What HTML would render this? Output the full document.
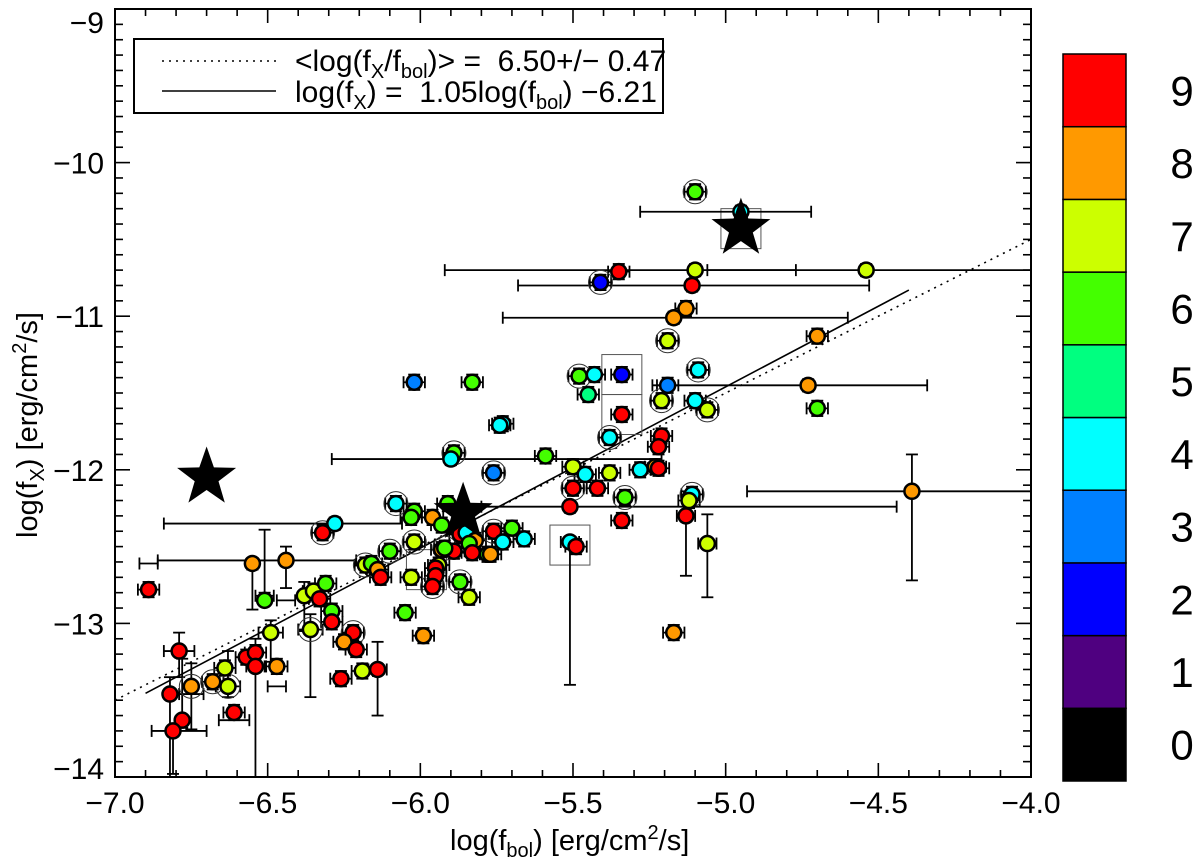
<!DOCTYPE html>
<html><head><meta charset="utf-8"><style>
html,body{margin:0;padding:0;background:#fff;}
svg{display:block;font-family:"Liberation Sans",sans-serif;}
</style></head><body>
<svg id="chart" width="1200" height="862" viewBox="0 0 1200 862">
<g id="grid"></g>
</svg>
<script>
// ---------- data ----------
var xVals=[-5.10,-4.95,-5.35,-5.41,-5.10,-4.54,-5.11,-5.13,-5.17,-5.19,-4.70,-5.09,-5.48,-5.43,-5.34,-5.45,-5.19,-5.21,-5.10,-5.06,-4.73,-4.70,-5.34,-5.73,-5.38,-5.21,-5.22,-5.59,-5.89,-5.90,-5.76,-5.50,-5.46,-5.38,-5.28,-5.23,-5.22,-5.50,-5.42,-5.51,-5.33,-5.11,-5.12,-5.34,-5.13,-5.06,-5.17,-4.39,-5.51,-5.49,-6.02,-5.83,-5.74,-6.08,-6.28,-6.02,-6.03,-5.96,-5.91,-5.93,-5.87,-5.85,-5.82,-5.76,-5.70,-5.73,-5.66,-5.84,-5.89,-5.83,-5.78,-5.77,-5.93,-5.92,-6.02,-6.10,-6.18,-6.16,-6.14,-6.13,-5.94,-5.95,-5.95,-5.96,-6.03,-5.87,-5.84,-6.05,-5.99,-6.22,-6.32,-6.89,-6.55,-6.44,-6.51,-6.38,-6.35,-6.33,-6.31,-6.29,-6.29,-6.36,-6.25,-6.21,-6.79,-6.49,-6.57,-6.54,-6.54,-6.47,-6.64,-6.68,-6.63,-6.75,-6.82,-6.61,-6.78,-6.81,-6.26,-6.19,-6.14];
var yVals=[-10.19,-10.32,-10.71,-10.78,-10.70,-10.70,-10.80,-10.95,-11.01,-11.16,-11.13,-11.35,-11.39,-11.38,-11.38,-11.51,-11.45,-11.55,-11.55,-11.61,-11.45,-11.60,-11.64,-11.70,-11.79,-11.78,-11.85,-11.91,-11.89,-11.93,-12.02,-11.98,-12.03,-12.02,-12.00,-11.98,-11.99,-12.12,-12.12,-12.24,-12.18,-12.16,-12.20,-12.33,-12.30,-12.48,-13.06,-12.14,-12.47,-12.50,-11.43,-11.43,-11.71,-12.22,-12.35,-12.27,-12.31,-12.31,-12.22,-12.36,-12.42,-12.41,-12.46,-12.40,-12.38,-12.47,-12.45,-12.48,-12.53,-12.54,-12.55,-12.55,-12.52,-12.51,-12.47,-12.53,-12.62,-12.61,-12.65,-12.70,-12.62,-12.64,-12.69,-12.76,-12.70,-12.73,-12.83,-12.93,-13.08,-13.06,-12.41,-12.78,-12.61,-12.59,-12.85,-12.82,-12.79,-12.84,-12.74,-12.92,-12.99,-13.04,-13.12,-13.17,-13.18,-13.06,-13.22,-13.19,-13.28,-13.28,-13.29,-13.38,-13.41,-13.41,-13.46,-13.58,-13.63,-13.70,-13.36,-13.31,-13.30];
var classVals=[6,4,9,2,7,7,9,8,8,7,8,4,6,4,2,5,3,7,4,7,8,6,9,4,4,9,9,6,6,4,3,7,4,7,4,8,9,9,9,9,6,4,7,9,9,7,8,8,4,9,3,6,4,4,4,6,6,8,6,6,9,4,8,9,6,4,4,6,9,9,6,8,8,6,7,6,7,6,8,9,7,9,9,9,7,6,7,6,8,9,9,9,8,8,6,7,7,9,6,6,9,7,8,9,9,7,9,9,9,8,7,8,7,8,9,9,9,9,9,7,9];
var ringIdx=[0,3,9,11,12,17,19,24,28,30,37,40,41,53,63,73,74,75,76,83,85,89,90,101,111,112,113];
var errIdx=[1,4,5,6,8,20,29,39,44,45,47,48,54,92,93,94,95,101,104,105,108,112,113,114,116,117,120];
var errXlo=[-5.28,-5.92,-5.06,-5.68,-5.73,-5.24,-6.29,-5.80,-5.16,-5.09,-4.93,-5.54,-6.84,-6.92,-6.86,-6.47,-6.54,-6.40,-6.84,-6.53,-6.57,-6.50,-6.67,-6.79,-6.66,-6.88,-6.17];
var errXhi=[-4.72,-4.77,-4.00,-4.53,-4.60,-4.34,-5.21,-4.44,-5.10,-5.03,-4.00,-5.48,-6.06,-6.86,-6.21,-6.41,-6.48,-6.32,-6.74,-6.45,-6.51,-6.44,-6.59,-6.71,-6.56,-6.70,-6.11];
var errYlo=[-10.36,-10.74,-10.74,-10.84,-11.05,-11.49,-11.97,-12.28,-12.69,-12.83,-12.72,-13.40,-12.39,-12.91,-12.77,-12.80,-13.05,-13.48,-13.35,-13.25,-14.00,-13.48,-13.69,-14.00,-13.68,-13.98,-13.60];
var errYhi=[-10.28,-10.66,-10.66,-10.76,-10.97,-11.41,-11.89,-12.20,-12.14,-12.29,-11.90,-12.45,-12.31,-12.65,-12.50,-12.39,-12.73,-12.94,-13.06,-12.98,-13.10,-13.18,-13.26,-13.35,-13.23,-13.70,-13.12];
var starX=[-6.70,-5.86,-4.95];
var starY=[-12.05,-12.28,-10.43];
var boxX=[-4.95,-5.34,-5.34,-5.51,-5.98];
var boxY=[-10.43,-11.38,-11.64,-12.49,-12.65];
var xTicks=[-7.0,-6.5,-6.0,-5.5,-5.0,-4.5,-4.0];
var xTickLabels=["\u22127.0","\u22126.5","\u22126.0","\u22125.5","\u22125.0","\u22124.5","\u22124.0"];
var yTicks=[-9,-10,-11,-12,-13,-14];
var yTickLabels=["\u22129","\u221210","\u221211","\u221212","\u221213","\u221214"];
var cbLabels=["0","1","2","3","4","5","6","7","8","9"];
var cbColors=["#000000","#4f0080","#0000ff","#0080ff","#00ffff","#00ff80","#44ff00","#ccff00","#ff9900","#ff0000"];
var fitSlope=[1.05], fitIcept=[-6.21], meanRatio=[6.50];

var L=115,R=1031,T=9,B=777,XMIN=-7,XMAX=-4,YMIN=-14,YMAX=-9;
function sx(v){return L+(v-XMIN)/(XMAX-XMIN)*(R-L);}
function sy(v){return B-(v-YMIN)/(YMAX-YMIN)*(B-T);}
var NS="http://www.w3.org/2000/svg";
var svg=document.getElementById('chart');
function el(tag,attrs,parent){var e=document.createElementNS(NS,tag);for(var k in attrs)e.setAttribute(k,attrs[k]);(parent||svg).appendChild(e);return e;}

var plot=el('g',{});



var dl=el('line',{x1:sx(-7),y1:sy(-7-meanRatio[0]),x2:sx(-4),y2:sy(-4-meanRatio[0]),stroke:'#000','stroke-width':1.6,'stroke-dasharray':'2,5'},plot);


var sl=el('line',{x1:sx(-6.9),y1:sy(fitSlope[0]*-6.9+fitIcept[0]),x2:sx(-4.4),y2:sy(fitSlope[0]*-4.4+fitIcept[0]),stroke:'#000','stroke-width':1.6},plot);



for(var i=0;i<boxX.length;i++){
  var b=el('rect',{x:sx(boxX[i])-20,y:sy(boxY[i])-20,width:40,height:40,fill:'none',stroke:'#555','stroke-width':1},plot);
  
  
}

function errbar(x1,x2,y,yl,yh,g){
  el('line',{x1:sx(x1),x2:sx(x2),y1:sy(y[1]),y2:sy(y[1]),stroke:'#000','stroke-width':1.8},g);
  el('line',{x1:sx(x1),x2:sx(x1),y1:sy(y[1])-6,y2:sy(y[1])+6,stroke:'#000','stroke-width':1.8},g);
  el('line',{x1:sx(x2),x2:sx(x2),y1:sy(y[1])-6,y2:sy(y[1])+6,stroke:'#000','stroke-width':1.8},g);
  el('line',{x1:sx(y[0]),x2:sx(y[0]),y1:sy(yl),y2:sy(yh),stroke:'#000','stroke-width':1.8},g);
  el('line',{x1:sx(y[0])-6,x2:sx(y[0])+6,y1:sy(yl),y2:sy(yl),stroke:'#000','stroke-width':1.8},g);
  el('line',{x1:sx(y[0])-6,x2:sx(y[0])+6,y1:sy(yh),y2:sy(yh),stroke:'#000','stroke-width':1.8},g);
}
var eg=el('g',{},plot);


for(var i=0;i<xVals.length;i++){
  var k=errIdx.indexOf(i);
  if(k>=0) errbar(errXlo[k],errXhi[k],[xVals[i],yVals[i]],errYlo[k],errYhi[k],eg);
  else errbar(xVals[i]-0.035,xVals[i]+0.035,[xVals[i],yVals[i]],yVals[i]-0.05,yVals[i]+0.05,eg);
}
for(var j=0;j<ringIdx.length;j++){
  var r=el('circle',{cx:sx(xVals[ringIdx[j]]),cy:sy(yVals[ringIdx[j]]),r:12,fill:'none',stroke:'#333','stroke-width':1},plot);
  
  
}
for(var i=0;i<xVals.length;i++){
  var c=el('circle',{cx:sx(xVals[i]),cy:sy(yVals[i]),r:7.5,fill:cbColors[classVals[i]],stroke:'#000','stroke-width':2.5},plot);
  
  
}
function starPath(cx,cy,ro,ri){var p='';for(var k=0;k<10;k++){var a=-Math.PI/2+k*Math.PI/5;var rr=k%2?ri:ro;p+=(k?'L':'M')+(cx+rr*Math.cos(a)).toFixed(1)+','+(cy+rr*Math.sin(a)).toFixed(1);}return p+'Z';}
for(var i=0;i<starX.length;i++){
  var s=el('path',{d:starPath(sx(starX[i]),sy(starY[i]),31,12.5),fill:'#000'},plot);
  
  
}

var ax=el('g',{});


el('rect',{x:L,y:T,width:R-L,height:B-T,fill:'none',stroke:'#000','stroke-width':2},ax);
for(var v=-7;v<=-4.0001;v+=0.1){
  var isMaj=Math.abs(v*2-Math.round(v*2))<1e-6, len=isMaj?14:7, X=sx(v);
  el('line',{x1:X,x2:X,y1:B,y2:B-len,stroke:'#000','stroke-width':1.6},ax);
  el('line',{x1:X,x2:X,y1:T,y2:T+len,stroke:'#000','stroke-width':1.6},ax);
}
for(var v=-14;v<=-9.0001;v+=0.1){
  var isMaj=Math.abs(v-Math.round(v))<1e-6, len=isMaj?15:8, Y=sy(v);
  el('line',{x1:L,x2:L+len,y1:Y,y2:Y,stroke:'#000','stroke-width':1.6},ax);
  el('line',{x1:R,x2:R-len,y1:Y,y2:Y,stroke:'#000','stroke-width':1.6},ax);
}
for(var i=0;i<xTicks.length;i++){
  var t=el('text',{x:sx(xTicks[i]),y:813,'font-size':30,'text-anchor':'middle'},ax);
  t.textContent=xTickLabels[i];
  
  
}
for(var i=0;i<yTicks.length;i++){
  var yy=sy(yTicks[i]); if(i==0) yy=22; if(i==yTicks.length-1) yy=768;
  var t=el('text',{x:104,y:yy+11,'font-size':30,'text-anchor':'end'},ax);
  t.textContent=yTickLabels[i];
  
  
}
var cb=el('g',{});


var segH=72.7, cbTop=54;
for(var i=0;i<10;i++){
  var y0=cbTop+(9-i)*segH;
  var r=el('rect',{x:1063,y:y0,width:63,height:segH,fill:cbColors[i],stroke:'#000','stroke-width':1.5},cb);
  
  
  var t=el('text',{x:1182,y:y0+segH/2+15,'font-size':42,'text-anchor':'middle'},cb);
  t.textContent=cbLabels[i];
  
  
}
</script>
<div style="position:absolute;left:0;top:0;width:1200px;height:862px;pointer-events:none">
<svg width="1200" height="862" style="position:absolute;left:0;top:0;font-family:'Liberation Sans',sans-serif">
  <g>
    <rect x="134" y="39" width="529" height="74" fill="#fff" stroke="#000" stroke-width="2"/>
    <line x1="162" y1="61" x2="276" y2="61" stroke="#000" stroke-width="1.6" stroke-dasharray="2,5"/>
    <line x1="162" y1="91" x2="276" y2="91" stroke="#000" stroke-width="1.6"/>
    <text x="295" y="71" font-size="30">&lt;log(f<tspan font-size="20" dy="7">X</tspan><tspan dy="-7">/f</tspan><tspan font-size="20" dy="7">bol</tspan><tspan dy="-7">)&gt; = &#160;6.50+/− 0.47</tspan></text>
    <text x="295" y="102" font-size="30">log(f<tspan font-size="20" dy="7">X</tspan><tspan dy="-7">) = &#160;1.05log(f</tspan><tspan font-size="20" dy="7">bol</tspan><tspan dy="-7">) −6.21</tspan></text>
  </g>
  <text x="450" y="850" font-size="29">log(f<tspan font-size="20" dy="7">bol</tspan><tspan dy="-7">) [erg/cm</tspan><tspan font-size="20" dy="-11">2</tspan><tspan dy="11">/s]</tspan></text>
  <text transform="translate(37,425) rotate(-90)" font-size="29" text-anchor="middle">log(f<tspan font-size="20" dy="7">X</tspan><tspan dy="-7">) [erg/cm</tspan><tspan font-size="20" dy="-11">2</tspan><tspan dy="11">/s]</tspan></text>
</svg>
</div>
</body></html>
